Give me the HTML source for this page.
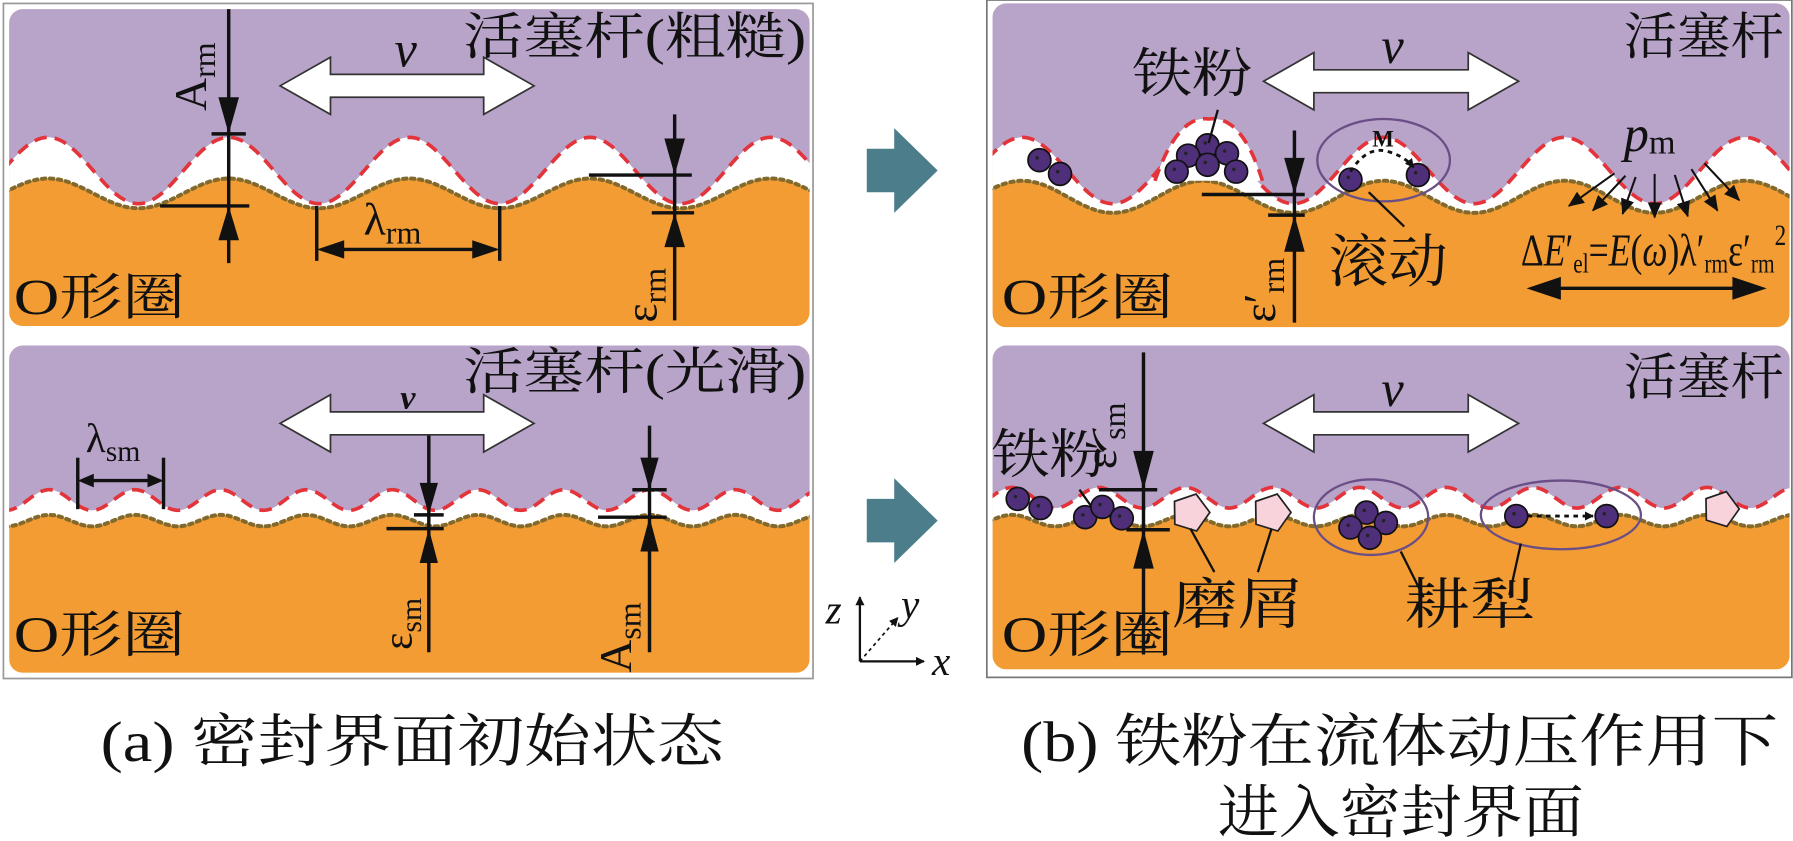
<!DOCTYPE html>
<html><head><meta charset="utf-8">
<style>
html,body{margin:0;padding:0;background:#fff;width:1793px;height:841px;overflow:hidden}
svg{display:block}
text{font-family:"Liberation Serif","Noto Serif CJK SC",serif;fill:#111}
</style></head>
<body>
<svg id="s" width="1793" height="841" viewBox="0 0 1568 735" preserveAspectRatio="none" xmlns="http://www.w3.org/2000/svg">
<defs>
<clipPath id="cA1"><rect x="8" y="8" width="700" height="277" rx="12"/></clipPath>
<clipPath id="cA2"><rect x="8" y="302" width="700" height="286" rx="12"/></clipPath>
<clipPath id="cB1"><rect x="868" y="3" width="697" height="283" rx="12"/></clipPath>
<clipPath id="cB2"><rect x="868" y="302" width="697" height="283" rx="12"/></clipPath>
<marker id="ah" markerWidth="8" markerHeight="8" refX="7" refY="4" orient="auto" markerUnits="userSpaceOnUse"><path d="M0,0 L8,4 L0,8 z" fill="#111"/></marker>
<marker id="ah2" markerWidth="14" markerHeight="12" refX="13" refY="6" orient="auto" markerUnits="userSpaceOnUse"><path d="M0,0 L14,6 L0,12 z" fill="#111"/></marker>
</defs>
<rect x="3" y="3" width="708" height="590" fill="none" stroke="#999" stroke-width="1.5"/>
<rect x="863" y="0" width="704" height="592" fill="none" stroke="#777" stroke-width="1.5"/>
<g id="panels"></g>
<g id="ann" stroke="#111" fill="none" stroke-width="3">
<line x1="200" y1="8" x2="200" y2="230"/>
<line x1="185" y1="117" x2="215" y2="117"/>
<line x1="140" y1="180" x2="218" y2="180"/>
<line x1="277" y1="180" x2="277" y2="228"/><line x1="437" y1="180" x2="437" y2="228"/>
<line x1="290" y1="218" x2="424" y2="218"/>
<line x1="590" y1="100" x2="590" y2="280"/>
<line x1="515" y1="153" x2="605" y2="153"/>
<line x1="570" y1="186" x2="607" y2="186"/>
<line x1="68" y1="400" x2="68" y2="445"/><line x1="143" y1="400" x2="143" y2="445"/>
<line x1="80" y1="420" x2="131" y2="420"/>
<line x1="375" y1="372" x2="375" y2="570"/>
<line x1="362" y1="450" x2="388" y2="450"/><line x1="338" y1="462" x2="388" y2="462"/>
<line x1="568" y1="372" x2="568" y2="570"/>
<line x1="553" y1="428" x2="583" y2="428"/><line x1="523" y1="452" x2="583" y2="452"/>
<line x1="1132" y1="114" x2="1132" y2="282"/>
<line x1="1051" y1="170" x2="1141" y2="170"/>
<line x1="1109" y1="188" x2="1141" y2="188"/>
<line x1="1000" y1="308" x2="1000" y2="572"/>
<line x1="961" y1="428" x2="1012" y2="428"/>
<line x1="985" y1="463" x2="1023" y2="463"/>
<line x1="1345" y1="252" x2="1530" y2="252"/>
</g>
<g id="heads" fill="#111"></g>
<g id="fg"></g>
</svg>
<script>
var NS="http://www.w3.org/2000/svg";
function el(t,a,p){var e=document.createElementNS(NS,t);for(var k in a)e.setAttribute(k,a[k]);(p||document.getElementById('fg')).appendChild(e);return e;}
function wave(x0,x1,c,a,P,pk){var s=[];for(var x=x0;x<=x1;x+=2){s.push(x+","+(c-a*Math.cos(2*Math.PI*(x-pk)/P)).toFixed(1));}return s;}
var panels=document.getElementById('panels');
function panel(clip,x0,y0,w,h,red,ora){
  var g=el('g',{'clip-path':'url(#'+clip+')'},panels);
  el('rect',{x:x0,y:y0,width:w,height:h,fill:'#f29c33'},g);
  var o=wave(x0-4,x0+w+4,ora[0],ora[1],ora[2],ora[3]);
  el('polygon',{points:(x0-4)+","+(y0-2)+" "+o.join(" ")+" "+(x0+w+4)+","+(y0-2),fill:'#fff'},g);
  var r=wave(x0-4,x0+w+4,red[0],red[1],red[2],red[3]);
  el('polygon',{points:(x0-4)+","+(y0-2)+" "+r.join(" ")+" "+(x0+w+4)+","+(y0-2),fill:'#b8a3c9'},g);
  el('polyline',{points:r.join(" "),fill:'none',stroke:'#e2343a','stroke-width':3.2,'stroke-dasharray':'11 7'},g);
  el('polyline',{points:o.join(" "),fill:'none',stroke:'#836a2c','stroke-width':3.5,'stroke-dasharray':'3 4','stroke-linecap':'round'},g);
  return g;
}
panel('cA1',8,8,700,277,[149,29,158,200],[169,13,158,200]);
panel('cA2',8,302,700,286,[437,9,75,568],[455,5,75,568]);
panel('cB1',868,3,697,283,[149,29,158,1052],[172,14,158,1052]);
panel('cB2',868,302,697,283,[435,9,76,1037],[455,5,76,1037]);
el('path',{d:'M1010,158 Q1030,100 1057,104 Q1086,100 1104,158 Z',fill:'#fff'});
el('path',{d:'M1010,158 Q1030,100 1057,104 Q1086,100 1104,158',fill:'none',stroke:'#e2343a','stroke-width':3.2,'stroke-dasharray':'11 7'});
var H=document.getElementById('heads');
function tri(x,y,dir,w,l){w=w||8;l=l||26;var p;
 if(dir=='d')p=[x-w,y-l,x+w,y-l,x,y];if(dir=='u')p=[x-w,y+l,x+w,y+l,x,y];
 if(dir=='l')p=[x+l,y-w,x+l,y+w,x,y];if(dir=='r')p=[x-l,y-w,x-l,y+w,x,y];
 el('polygon',{points:p.join(',')},H);}
tri(200,117,'d',9,32);tri(200,180,'u',9,30);
tri(277,218,'l',8,24);tri(437,218,'r',8,24);
tri(590,153,'d',9,32);tri(590,186,'u',9,30);
tri(68,420,'l',6,14);tri(143,420,'r',6,14);
tri(375,450,'d',8,28);tri(375,462,'u',8,30);
tri(568,428,'d',8,28);tri(568,452,'u',8,30);
tri(1132,170,'d',9,32);tri(1132,188,'u',9,32);
tri(1000,428,'d',9,34);tri(1000,463,'u',9,34);
tri(1335,252,'l',10,30);tri(1545,252,'r',10,30);
function dbl(x0,x1,cy){var h=25,s=10,hl=44;
 el('polygon',{points:[x0,cy,x0+hl,cy-h,x0+hl,cy-s,x1-hl,cy-s,x1-hl,cy-h,x1,cy,x1-hl,cy+h,x1-hl,cy+s,x0+hl,cy+s,x0+hl,cy+h].join(','),fill:'#fff',stroke:'#333','stroke-width':1.5});}
dbl(245,467,75);dbl(245,467,370);dbl(1105,1328,71);dbl(1105,1328,370);
function teal(cy){el('polygon',{points:[758,cy-19,782,cy-19,782,cy-37,820,cy,782,cy+37,782,cy+19,758,cy+19].join(','),fill:'#4b7e8a'});}
teal(149);teal(455);
function dot(x,y,r){r=r||10;el('circle',{cx:x,cy:y,r:r,fill:'#4f2f7a',stroke:'#111','stroke-width':1.5});el('circle',{cx:x-2,cy:y-2,r:1.5,fill:'#222'});}
[[909,140],[927,152],[1056,127],[1039,136],[1073,134],[1056,144],[1029,150],[1081,150],[1181,157],[1240,153],
 [890,436],[910,444],[949,452],[964,443],[981,453],[1195,448],[1181,461],[1212,457],[1198,470],[1326,451],[1405,451]].forEach(function(p){dot(p[0],p[1]);});
el('ellipse',{cx:1210,cy:140,rx:58,ry:36,fill:'none',stroke:'#6a4e86','stroke-width':2});
el('ellipse',{cx:1199,cy:452,rx:50,ry:33,fill:'none',stroke:'#6a4e86','stroke-width':2});
el('ellipse',{cx:1365,cy:450,rx:70,ry:30,fill:'none',stroke:'#6a4e86','stroke-width':2});
el('path',{d:'M1181,150 Q1195,128 1212,132 Q1228,136 1236,146',fill:'none',stroke:'#111','stroke-width':2.5,'stroke-dasharray':'4 4','marker-end':'url(#ah)'});
el('line',{x1:1336,y1:451,x2:1393,y2:451,stroke:'#111','stroke-width':2.5,'stroke-dasharray':'4 4','marker-end':'url(#ah)'});
function pent(cx,cy,s){var p=[];for(var i=0;i<5;i++){var a=-Math.PI/2+i*2*Math.PI/5+0.3;p.push((cx+s*Math.cos(a)).toFixed(1)+","+(cy+s*Math.sin(a)).toFixed(1));}
 el('polygon',{points:p.join(' '),fill:'#f8d3dc',stroke:'#222','stroke-width':1.5});}
pent(1041,448,17);pent(1112,448,17);pent(1505,445,16);
function ln(a,b,c,d){el('line',{x1:a,y1:b,x2:c,y2:d,stroke:'#111','stroke-width':2});}
ln(1065,96,1057,125);ln(1197,168,1228,198);ln(944,428,954,442);
ln(1041,462,1062,500);ln(1112,462,1100,500);ln(1225,482,1245,522);ln(1330,475,1320,520);
[[1393,165,1372,180],[1408,168,1393,184],[1425,170,1419,187],[1447,170,1447,190],[1470,170,1476,189],[1490,165,1502,184],[1505,158,1521,175]].forEach(function(a){
 var dx=a[2]-a[0],dy=a[3]-a[1];
 el('line',{x1:a[0]-dx*0.9,y1:a[1]-dy*0.9,x2:a[2],y2:a[3],stroke:'#111','stroke-width':1.8,'marker-end':'url(#ah2)'});});
el('line',{x1:752,y1:578,x2:752,y2:522,stroke:'#111','stroke-width':2,'marker-end':'url(#ah)'});
el('line',{x1:752,y1:578,x2:808,y2:578,stroke:'#111','stroke-width':2,'marker-end':'url(#ah)'});
el('line',{x1:752,y1:578,x2:785,y2:540,stroke:'#111','stroke-width':1.5,'stroke-dasharray':'3 3','marker-end':'url(#ah)'});
</script>
<svg style="position:absolute;left:0;top:0" width="1793" height="841" viewBox="0 0 1568 735" preserveAspectRatio="none" xmlns="http://www.w3.org/2000/svg">
<g font-size="44">
<text x="405" y="47" textLength="300" lengthAdjust="spacingAndGlyphs">活塞杆(粗糙)</text>
<text x="405" y="340" textLength="300" lengthAdjust="spacingAndGlyphs">活塞杆(光滑)</text>
<text x="12" y="275" textLength="150" lengthAdjust="spacingAndGlyphs">O形圈</text>
<text x="12" y="570" textLength="150" lengthAdjust="spacingAndGlyphs">O形圈</text>
<text x="876" y="275" textLength="150" lengthAdjust="spacingAndGlyphs">O形圈</text>
<text x="876" y="570" textLength="150" lengthAdjust="spacingAndGlyphs">O形圈</text>
<text x="1420" y="47" textLength="140" lengthAdjust="spacingAndGlyphs">活塞杆</text>
<text x="1420" y="345" textLength="140" lengthAdjust="spacingAndGlyphs">活塞杆</text>
<text x="990" y="80" font-size="46" textLength="105" lengthAdjust="spacingAndGlyphs">铁粉</text>
<text x="867" y="413" font-size="46" textLength="102" lengthAdjust="spacingAndGlyphs">铁粉</text>
<text x="1162" y="246" font-size="50" textLength="104" lengthAdjust="spacingAndGlyphs">滚动</text>
<text x="1025" y="545" font-size="48" textLength="115" lengthAdjust="spacingAndGlyphs">磨屑</text>
<text x="1228" y="545" font-size="48" textLength="115" lengthAdjust="spacingAndGlyphs">耕犁</text>
<text x="345" y="58" font-style="italic">v</text>
<text x="350" y="357" font-size="30" font-style="italic" font-weight="bold">v</text>
<text x="1208" y="55" font-style="italic">v</text>
<text x="1208" y="355" font-style="italic">v</text>
</g>
<g font-size="40">
<text transform="translate(180,97) rotate(-90)">A<tspan font-size="28" dy="8">rm</tspan></text>
<text x="318" y="205">λ<tspan font-size="28" dy="8">rm</tspan></text>
<text transform="translate(574,282) rotate(-90)">ε<tspan font-size="28" dy="8">rm</tspan></text>
<text x="75" y="395" font-size="36">λ<tspan font-size="26" dy="8">sm</tspan></text>
<text transform="translate(360,568) rotate(-90)" font-size="36">ε<tspan font-size="26" dy="8">sm</tspan></text>
<text transform="translate(552,588) rotate(-90)">A<tspan font-size="28" dy="8">sm</tspan></text>
<text transform="translate(1115,282) rotate(-90)">ε′<tspan font-size="28" dy="8">rm</tspan></text>
<text transform="translate(976,410) rotate(-90)">ε′<tspan font-size="28" dy="8">sm</tspan></text>
<text x="1420" y="132" font-style="italic" font-size="44">p<tspan font-style="normal" font-size="30" dy="2">m</tspan></text>
<text x="1200" y="128" font-size="20" font-weight="bold">M</text>
<text x="1330" y="232" font-size="40" textLength="232" lengthAdjust="spacingAndGlyphs">Δ<tspan font-style="italic">E</tspan>′<tspan font-size="24" dy="6">el</tspan><tspan dy="-6">=</tspan><tspan font-style="italic">E</tspan>(<tspan font-style="italic">ω</tspan>)λ′<tspan font-size="24" dy="6">rm</tspan><tspan dy="-6">ε′</tspan><tspan font-size="24" dy="6">rm</tspan><tspan font-size="26" dy="-24">2</tspan></text>
<text x="722" y="545" font-style="italic" font-size="36">z</text>
<text x="788" y="540" font-style="italic" font-size="36">y</text>
<text x="815" y="590" font-style="italic" font-size="36">x</text>
</g>
<g font-size="50">
<text x="88" y="665" textLength="545" lengthAdjust="spacingAndGlyphs">(a) 密封界面初始状态</text>
<text x="893" y="665" textLength="662" lengthAdjust="spacingAndGlyphs">(b) 铁粉在流体动压作用下</text>
<text x="1065" y="727" textLength="320" lengthAdjust="spacingAndGlyphs">进入密封界面</text>
</g>
</svg>
</body></html>
